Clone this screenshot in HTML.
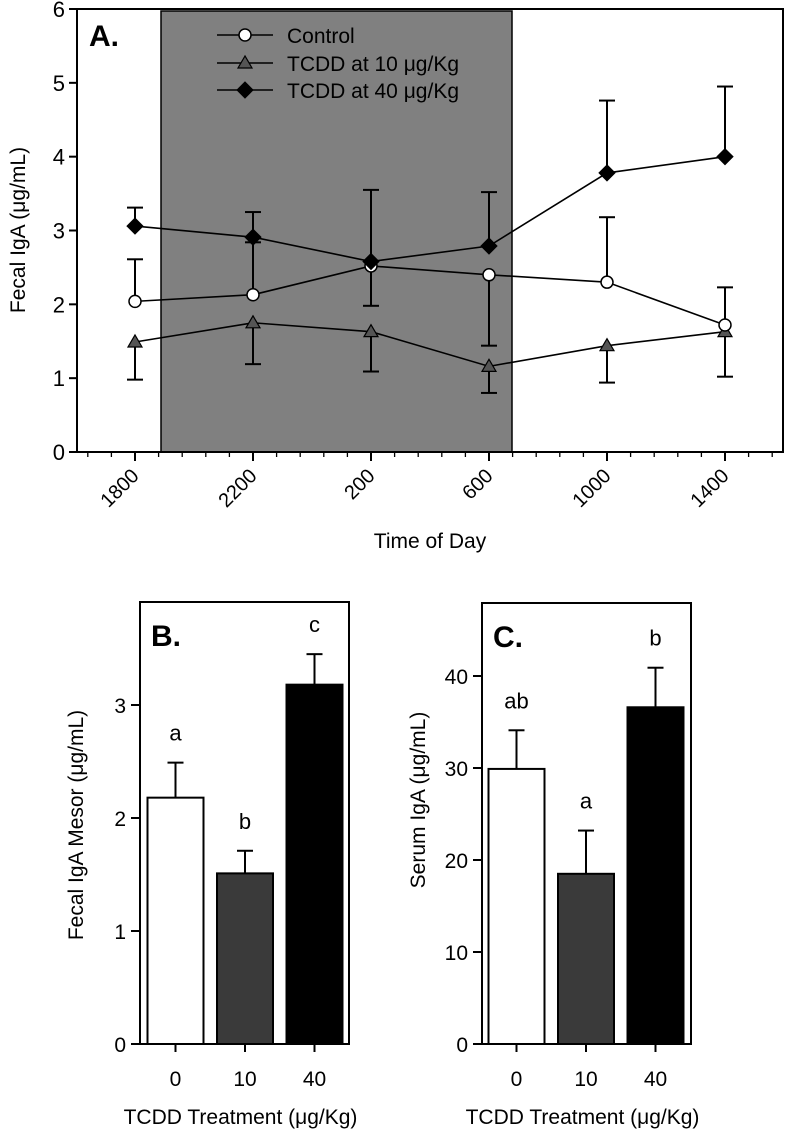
<!DOCTYPE html>
<html><head><meta charset="utf-8"><style>
html,body{margin:0;padding:0;background:#fff;}
svg{display:block;font-family:"Liberation Sans",Arial,sans-serif;}
</style></head><body>
<svg id="fig" width="786" height="1135" viewBox="0 0 786 1135"></svg>
<script>
// Panel A data
const timeLabels = ["1800","2200","200","600","1000","1400"];
const controlVals = [2.04,2.13,2.52,2.40,2.30,1.72];
const controlErr = [2.61,2.84,1.98,1.44,3.18,2.23];
const tcdd10Vals = [1.49,1.75,1.63,1.16,1.44,1.63];
const tcdd10Err = [0.98,1.19,1.09,0.80,0.94,1.02];
const tcdd40Vals = [3.06,2.91,2.58,2.79,3.78,4.00];
const tcdd40Err = [3.31,3.25,3.55,3.52,4.76,4.95];
const aYTicks = [0,1,2,3,4,5,6];
// Panel B data
const doseLabels = ["0","10","40"];
const mesorVals = [2.18,1.51,3.18];
const mesorErr = [2.49,1.71,3.45];
const mesorLetters = ["a","b","c"];
const bYTicks = [0,1,2,3];
// Panel C data
const serumVals = [29.9,18.5,36.6];
const serumErr = [34.1,23.2,40.9];
const serumLetters = ["ab","a","b"];
const cYTicks = [0,10,20,30,40];

const NS="http://www.w3.org/2000/svg";
const svg=document.getElementById('fig');
function mk(tag,attrs,parent){const e=document.createElementNS(NS,tag);for(const k in attrs)e.setAttribute(k,attrs[k]);(parent||svg).appendChild(e);return e;}
function txt(s,attrs,parent){const e=mk('text',attrs,parent);e.textContent=s;return e;}

// ===== Panel A =====
const A={l:77,r:783,t:9,b:452,ymax:6};
const ax=i=>135+i*118;
const ay=v=>A.b-(v/A.ymax)*(A.b-A.t);
const gA=mk('g',{});


let e=mk('rect',{x:A.l,y:A.t,width:A.r-A.l,height:A.b-A.t,fill:'#fff',stroke:'none'},gA);
e=mk('rect',{x:161,y:11,width:512-161,height:A.b-11,fill:'#808080',stroke:'#000','stroke-width':1.5},gA);


e=mk('rect',{x:A.l,y:A.t,width:A.r-A.l,height:A.b-A.t,fill:'none',stroke:'#000','stroke-width':2},gA);


aYTicks.forEach(v=>{
  mk('line',{x1:A.l-8,x2:A.l,y1:ay(v),y2:ay(v),stroke:'#000','stroke-width':2},gA);
  const t=txt(String(v),{x:A.l-12,y:ay(v)+8,'font-size':22,'text-anchor':'end'},gA);
  
  
});
for(let k=-2;k<=29;k++){
  const x=135+k*23.6;
  if(x<A.l+2||x>A.r-2)continue;
  const major=(k%5===0);
  mk('line',{x1:x,x2:x,y1:A.b,y2:A.b+(major?9:5),stroke:'#000','stroke-width':major?2:1.3},gA);
}
timeLabels.forEach((s,i)=>{
  const x=ax(i)+5,y=477;
  const t=txt(s,{x:x,y:y,'font-size':20,'text-anchor':'end',transform:`rotate(-45 ${x} ${y})`},gA);
  
  
});
e=txt('Time of Day',{x:430,y:548,'font-size':21,'text-anchor':'middle'},gA);


e=txt('Fecal IgA (μg/mL)',{x:0,y:0,'font-size':21,'text-anchor':'middle',transform:'translate(25,230) rotate(-90)'},gA);


e=txt('A.',{x:89,y:46,'font-size':30,'font-weight':'bold'},gA);



function errBars(vals,errs,name){
  vals.forEach((v,i)=>{
    const x=ax(i);
    const l=mk('line',{x1:x,x2:x,y1:ay(v),y2:ay(errs[i]),stroke:'#000','stroke-width':2},gA);
    
    
    mk('line',{x1:x-8,x2:x+8,y1:ay(errs[i]),y2:ay(errs[i]),stroke:'#000','stroke-width':2},gA);
  });
}
function line(vals,name){
  const p=mk('polyline',{points:vals.map((v,i)=>ax(i)+','+ay(v)).join(' '),fill:'none',stroke:'#000','stroke-width':1.6},gA);
  
  
}
function marker(kind,x,y,parent){
  let m;
  if(kind==='circle') m=mk('circle',{cx:x,cy:y,r:6,fill:'#fff',stroke:'#000','stroke-width':1.5},parent);
  else if(kind==='tri') m=mk('polygon',{points:`${x},${y-7} ${x-7},${y+5} ${x+7},${y+5}`,fill:'#555',stroke:'#000','stroke-width':1.2},parent);
  else m=mk('polygon',{points:`${x},${y-8} ${x+8},${y} ${x},${y+8} ${x-8},${y}`,fill:'#000',stroke:'#000','stroke-width':1},parent);
  return m;
}
errBars(tcdd40Vals,tcdd40Err,'tcdd40');
errBars(controlVals,controlErr,'control');
errBars(tcdd10Vals,tcdd10Err,'tcdd10');
line(tcdd40Vals,'tcdd40');line(controlVals,'control');line(tcdd10Vals,'tcdd10');
tcdd10Vals.forEach((v,i)=>{const m=marker('tri',ax(i),ay(v),gA);
  
  });
controlVals.forEach((v,i)=>{const m=marker('circle',ax(i),ay(v),gA);
  
  });
tcdd40Vals.forEach((v,i)=>{const m=marker('dia',ax(i),ay(v),gA);
  
  });
const leg=[['circle','Control',35],['tri','TCDD at 10 μg/Kg',63],['dia','TCDD at 40 μg/Kg',90]];
leg.forEach(L=>{
  const g=mk('g',{},gA);
  
  
  mk('line',{x1:217,x2:273,y1:L[2],y2:L[2],stroke:'#000','stroke-width':1.6},g);
  marker(L[0],245,L[2],g);
  txt(L[1],{x:287,y:L[2]+8,'font-size':21},g);
});

// ===== Bar panels =====
function barPanel(cfg){
  const g=mk('g',{});
  
  
  const y=v=>cfg.y0-(v/cfg.unit)*cfg.unitPx;
  const fills=['#fff','#3a3a3a','#000'];
  cfg.vals.forEach((v,i)=>{
    const cx=cfg.x0+i*cfg.dx;
    const el=mk('line',{x1:cx,x2:cx,y1:y(v),y2:y(cfg.errs[i]),stroke:'#000','stroke-width':2},g);
    
    
    mk('line',{x1:cx-8,x2:cx+8,y1:y(cfg.errs[i]),y2:y(cfg.errs[i]),stroke:'#000','stroke-width':2},g);
    const b=mk('rect',{x:cx-28,y:y(v),width:56,height:cfg.y0-y(v),fill:fills[i],stroke:'#000','stroke-width':2},g);
    
    
    const lt=txt(cfg.letters[i],{x:cx,y:y(cfg.errs[i])-cfg.letterGap,'font-size':22,'text-anchor':'middle'},g);
    
    
    mk('line',{x1:cx,x2:cx,y1:cfg.y0,y2:cfg.y0+8,stroke:'#000','stroke-width':2},g);
    const tl=txt(cfg.cats[i],{x:cx,y:1086,'font-size':21,'text-anchor':'middle'},g);
    
    
  });
  const fr=mk('polyline',{points:`${cfg.l},${cfg.y0} ${cfg.l},${cfg.t} ${cfg.r},${cfg.t} ${cfg.r},${cfg.y0}`,fill:'none',stroke:'#000','stroke-width':2},g);
  
  
  mk('line',{x1:cfg.l-9,x2:cfg.r+1,y1:cfg.y0,y2:cfg.y0,stroke:'#000','stroke-width':2},g);
  cfg.ticks.forEach(v=>{
    mk('line',{x1:cfg.l-9,x2:cfg.l,y1:y(v),y2:y(v),stroke:'#000','stroke-width':2},g);
    const t=txt(String(v),{x:cfg.l-14,y:y(v)+8,'font-size':21,'text-anchor':'end'},g);
    
    
  });
  let t=txt(cfg.panel,{x:cfg.l+11,y:cfg.t+44,'font-size':30,'font-weight':'bold'},g);
  
  
  t=txt(cfg.ytitle,{x:0,y:0,'font-size':21,'text-anchor':'middle',transform:`translate(${cfg.ytx},${cfg.yty}) rotate(-90)`},g);
  
  
  t=txt('TCDD Treatment (μg/Kg)',{x:(cfg.l+cfg.r)/2-4,y:1124,'font-size':21,'text-anchor':'middle'},g);
  
  
}
barPanel({name:'panel-b',l:140,r:349,t:602,y0:1044,unit:1,unitPx:113,x0:175.5,dx:69.5,
  vals:mesorVals,errs:mesorErr,letters:mesorLetters,cats:doseLabels,ticks:bYTicks,letterGap:22,
  panel:'B.',ytitle:'Fecal IgA Mesor (μg/mL)',ytx:83,yty:825});
barPanel({name:'panel-c',l:482,r:691,t:603,y0:1044,unit:10,unitPx:92,x0:516.5,dx:69.5,
  vals:serumVals,errs:serumErr,letters:serumLetters,cats:doseLabels,ticks:cYTicks,letterGap:22,
  panel:'C.',ytitle:'Serum IgA (μg/mL)',ytx:425,yty:800});
</script>
</body></html>
